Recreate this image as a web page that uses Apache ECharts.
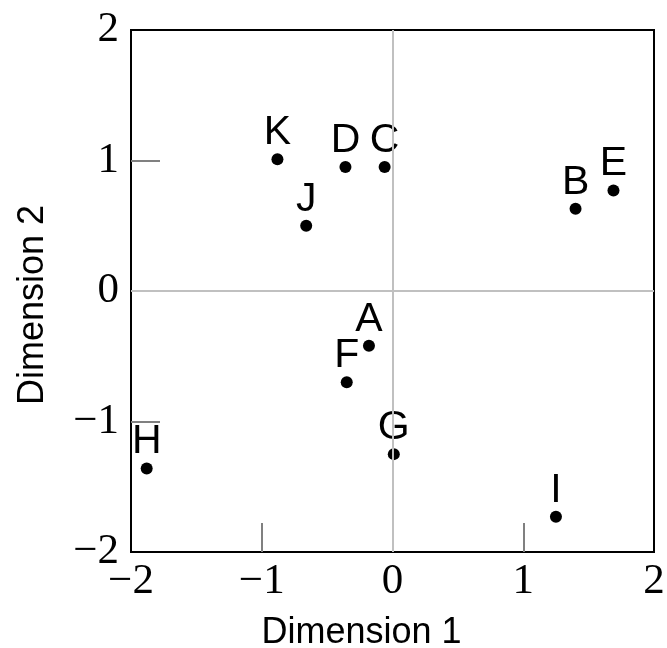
<!DOCTYPE html>
<html>
<head>
<meta charset="utf-8">
<script src="https://cdn.jsdelivr.net/npm/echarts@6/dist/echarts.min.js"></script>
<style>
  html, body { margin: 0; padding: 0; background: #fff; }
  #chart { width: 667px; height: 648px; }
</style>
</head>
<body>
<div id="chart"></div>
<script>
  // point labels and coordinates
  let names = ['A', 'B', 'C', 'D', 'E', 'F', 'G', 'H', 'I', 'J', 'K'];
  let dim1 = [-0.18, 1.40, -0.06, -0.36, 1.69, -0.35, 0.01, -1.88, 1.25, -0.66, -0.88];
  let dim2 = [-0.42, 0.63, 0.95, 0.95, 0.77, -0.70, -1.25, -1.36, -1.73, 0.50, 1.01];
  // axis range and tick marks
  let axisMin = -2, axisMax = 2, axisStep = 1;
  let tickMarks = [-1, 1];

  let chart = echarts.init(document.getElementById('chart'));

  let fmt = v => (v < 0 ? '\u2212' + Math.abs(v) : String(v));

  let axisCommon = {
    type: 'value',
    min: axisMin,
    max: axisMax,
    interval: axisStep,
    axisLine: { show: false, onZero: false },
    splitLine: { show: false },
    axisTick: {
      show: true,
      inside: true,
      length: 29,
      customValues: tickMarks,
      lineStyle: { color: '#808080', width: 2 }
    },
    nameTextStyle: {
      fontFamily: 'Liberation Sans',
      fontSize: 36,
      color: '#000'
    }
  };

  let option = {
    animation: false,
    grid: {
      show: true,
      left: 131,
      right: 13,
      top: 30,
      bottom: 96,
      outerBoundsMode: 'none',
      containLabel: false,
      borderColor: '#000',
      borderWidth: 2
    },
    xAxis: Object.assign({}, axisCommon, {
      name: 'Dimension 1',
      nameLocation: 'middle',
      nameGap: 63,
      nameTextStyle: Object.assign({}, axisCommon.nameTextStyle, { padding: [0, 62, 0, 0] }),
      axisLabel: {
        margin: 8,
        formatter: fmt,
        fontFamily: 'Liberation Serif',
        fontSize: 43,
        color: '#000'
      }
    }),
    yAxis: Object.assign({}, axisCommon, {
      name: 'Dimension 2',
      nameLocation: 'middle',
      nameGap: 80,
      nameTextStyle: Object.assign({}, axisCommon.nameTextStyle, { padding: [0, 28, 0, 0] }),
      axisLabel: {
        margin: 12,
        formatter: fmt,
        fontFamily: 'Liberation Serif',
        fontSize: 43,
        color: '#000'
      }
    }),
    series: [
      {
        type: 'scatter',
        symbolSize: 12,
        itemStyle: { color: '#000', opacity: 1 },
        data: names.map((n, i) => ({ name: n, value: [dim1[i], dim2[i]] })),
        label: {
          show: true,
          position: 'top',
          distance: 0,
          formatter: '{b}',
          fontFamily: 'Liberation Sans',
          fontSize: 41,
          color: '#000'
        },
        markLine: {
          silent: true,
          symbol: ['none', 'none'],
          label: { show: false },
          lineStyle: { color: '#c0c0c0', width: 2, type: 'solid' },
          data: [{ xAxis: 0 }, { yAxis: 0 }]
        }
      }
    ]
  };

  chart.setOption(option);
</script>
</body>
</html>
